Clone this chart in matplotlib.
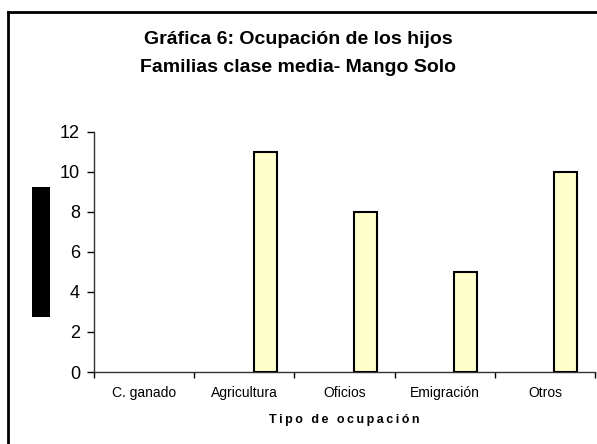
import matplotlib
matplotlib.use("Agg")
import matplotlib.pyplot as plt
from matplotlib.patches import Rectangle
from matplotlib.lines import Line2D
import numpy as np

plt.rcParams['font.family'] = ['Liberation Sans', 'DejaVu Sans']

# datos
categorias = ['C. ganado', 'Agricultura', 'Oficios', 'Emigración', 'Otros']
hijos = [0, 11, 8, 5, 10]
yticks = [0, 2, 4, 6, 8, 10, 12]

W, H = 597, 444
fig = plt.figure(figsize=(W / 100, H / 100), dpi=100)
fig.patch.set_facecolor('white')

ax = fig.add_axes([94 / W, 1 - 372 / H, (595 - 94) / W, (372 - 132) / H])

x = np.arange(len(categorias)) + 0.5
bordes = ['black' if v > 0 else 'none' for v in hijos]
ax.bar(x + 0.21, hijos, width=0.23, color='#FFFFCC', edgecolor=bordes, linewidth=1.5, zorder=3)

ax.set_xlim(0, len(categorias))
ax.set_ylim(0, 12)
ax.set_yticks(yticks)
ax.set_yticklabels([str(v) for v in yticks], fontsize=13)

# ticks en los limites de categoria
ax.set_xticks(np.arange(len(categorias) + 1))
ax.set_xticklabels([])
ax.set_xticks(x, minor=True)
ax.set_xticklabels(categorias, minor=True, fontsize=10)
ax.tick_params(axis='x', which='minor', length=0, pad=10)
ax.tick_params(axis='x', which='major', length=4, direction='out', width=1)
ax.tick_params(axis='y', length=5, direction='out', width=1, pad=5)

for s in ['top', 'right']:
    ax.spines[s].set_visible(False)
for s in ['left', 'bottom']:
    ax.spines[s].set_linewidth(1)
    ax.spines[s].set_color('#333333')

etiqueta = '\u2009'.join('Tipo de ocupación')
ax.set_xlabel(etiqueta, fontsize=9, fontweight='bold', labelpad=10)

fig.text(0.5, 1 - 40 / H, 'Gráfica 6: Ocupación de los hijos', ha='center', va='center',
         fontsize=14, fontweight='bold')
fig.text(0.5, 1 - 68 / H, 'Familias clase media- Mango Solo', ha='center', va='center',
         fontsize=14, fontweight='bold')

# marco exterior
fig.add_artist(Line2D([8 / W, 8 / W], [0, 1 - 12 / H], color='black', lw=2, transform=fig.transFigure))
fig.add_artist(Line2D([8 / W, 1], [1 - 12 / H, 1 - 12 / H], color='black', lw=2, transform=fig.transFigure))

# bloque negro del eje y
fig.add_artist(Rectangle((32 / W, 1 - 317 / H), 18 / W, 130 / H, transform=fig.transFigure,
                         facecolor='black', edgecolor='none'))

fig.savefig('out.png', dpi=100)
